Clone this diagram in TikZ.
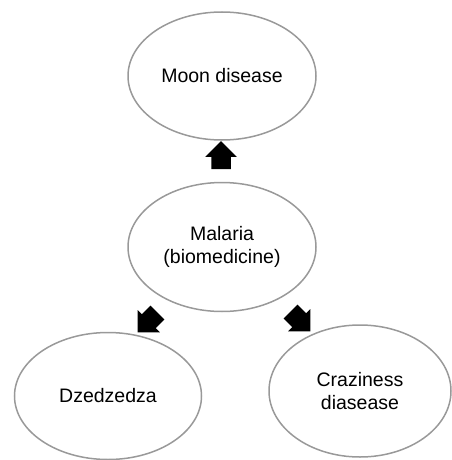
\documentclass[tikz,border=0pt]{standalone}
\usepackage{fontspec}
\setmainfont{Liberation Sans}
\usetikzlibrary{shapes.geometric,shapes.arrows}
\begin{document}
\begin{tikzpicture}[x=1pt,y=-1pt,line width=1.5pt]
        \useasboundingbox (0,0) rectangle (451,460);
        \tikzset{bubble/.style={draw=gray!80,ellipse,inner sep=0pt,align=center,font=\fontsize{19.5}{23.5}\selectfont},
                 blockarrow/.style={single arrow,fill=black,draw=none,inner xsep=0pt,inner ysep=9pt,minimum height=28pt,single arrow head extend=6pt}}
        \foreach \i/\x/\y/\w/\h/\t in {1/222/76/188/128/Moon disease,2/222/247/188/129/Malaria\\(biomedicine),3/108/396/187/127/Dzedzedza,4/360/391/182/132/Craziness\\diasease}{%
            \node[bubble,minimum width=\w pt,minimum height=\h pt] (N-\i) at (\x,\y) {\t};
        }
        \foreach \i/\x/\y/\a in {1/221/160/90,2/151/319/225,3/297/318/-45}{%
            \node[blockarrow,rotate=\a] (E-\i) at (\x,\y) {};
        }
    \end{tikzpicture}
\end{document}
